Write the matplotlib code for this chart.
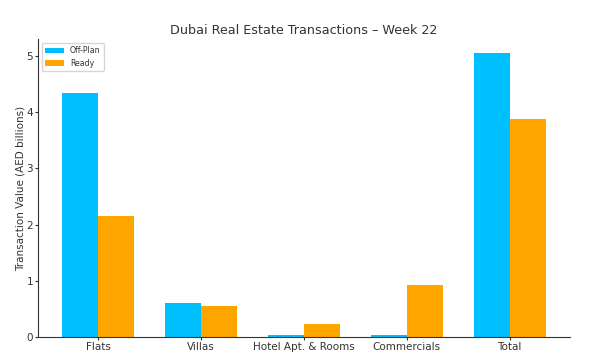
import numpy as np
import matplotlib.pyplot as plt

categories = ['Flats', 'Villas', 'Hotel Apt. & Rooms', 'Commercials', 'Total']
off_plan = [4.34, 0.60, 0.04, 0.03, 5.05]
ready = [2.15, 0.55, 0.23, 0.93, 3.87]

x = np.arange(len(categories))
w = 0.35

fig = plt.figure(figsize=(5.99, 3.64), dpi=100)
ax = fig.add_axes([0.0634, 0.074, 0.888, 0.819])
ax.bar(x - w/2, off_plan, w, label='Off-Plan', color='#00BFFF')
ax.bar(x + w/2, ready, w, label='Ready', color='#FFA500')

ax.set_xticks(x)
ax.set_xticklabels(categories)
ax.tick_params(labelsize=7.5, colors='#333333', length=2, pad=1.5)
for s in ['left', 'bottom']:
    ax.spines[s].set_color('#333333')
    ax.spines[s].set_linewidth(0.8)
ax.spines['top'].set_visible(False)
ax.spines['right'].set_visible(False)
ax.set_ylabel('Transaction Value (AED billions)', fontsize=7.5, color='#333333', labelpad=1)
ax.set_title('Dubai Real Estate Transactions \u2013 Week 22', fontsize=9.2, color='#333333', pad=3.5)
leg = ax.legend(loc='upper left', fontsize=5.6, handlelength=2.4, borderaxespad=0.5)
for t in leg.get_texts():
    t.set_color('#333333')

plt.savefig('out.png')
